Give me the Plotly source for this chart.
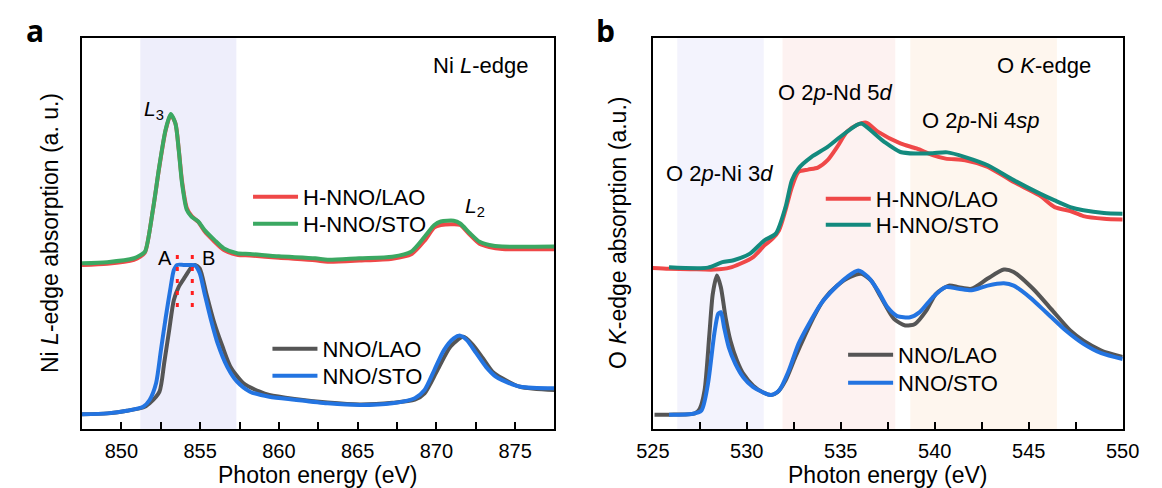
import plotly.graph_objects as go

# ---------------- data: panel a (Ni L-edge) ----------------
a_hsto_E = [847.5, 849.1, 850.8, 851.2, 851.5, 852.0, 852.4, 852.8, 853.13, 853.43, 853.64, 853.85,
            854.15, 854.46, 854.88, 855.28, 855.9, 856.51, 857.34, 858.16, 860.0, 862.3, 863.1, 865.1,
            867.2, 868.4, 869.25, 869.87, 870.28, 871.1, 871.51, 872.13, 872.74, 873.36, 874.18, 877.5]
a_hsto_I = [0.424, 0.427, 0.437, 0.445, 0.454, 0.561, 0.671, 0.765, 0.806, 0.782, 0.714, 0.629,
            0.561, 0.543, 0.531, 0.509, 0.484, 0.462, 0.450, 0.448, 0.442, 0.437, 0.433, 0.437,
            0.441, 0.454, 0.492, 0.522, 0.531, 0.533, 0.526, 0.501, 0.479, 0.471, 0.467, 0.467]
a_hlao_E = a_hsto_E
a_hlao_I = [0.420, 0.423, 0.433, 0.441, 0.452, 0.561, 0.669, 0.763, 0.804, 0.782, 0.716, 0.634,
            0.566, 0.545, 0.530, 0.506, 0.480, 0.458, 0.446, 0.444, 0.438, 0.432, 0.428, 0.431,
            0.436, 0.447, 0.482, 0.516, 0.522, 0.524, 0.522, 0.497, 0.474, 0.466, 0.461, 0.460]

a_sto_E = [847.5, 849.12, 850.35, 851.38, 851.79, 852.2, 852.51, 852.82, 853.13, 853.33, 853.54,
           853.95, 854.36, 854.67, 854.97, 855.28, 855.69, 856.11, 856.72, 857.34, 858.16, 859.39,
           861.0, 863.09, 865.14, 867.2, 868.63, 869.25, 869.87, 870.48, 871.1, 871.51, 871.92,
           872.53, 873.15, 873.77, 874.18, 875.32, 877.5]
a_sto_I = [0.0376, 0.040, 0.0468, 0.057, 0.0742, 0.117, 0.202, 0.287, 0.364, 0.407, 0.420,
           0.420, 0.420, 0.419, 0.399, 0.347, 0.279, 0.219, 0.159, 0.121, 0.0955, 0.0827,
           0.075, 0.0658, 0.0614, 0.0658, 0.0786, 0.0998, 0.151, 0.202, 0.232, 0.239, 0.228,
           0.194, 0.159, 0.134, 0.125, 0.108, 0.104]
a_lao_E = [847.5, 849.12, 850.35, 851.38, 851.79, 852.41, 852.72, 853.03, 853.33, 853.64, 854.05,
           854.46, 854.67, 854.97, 855.39, 855.9, 856.42, 856.93, 857.75, 858.78, 859.39, 861.0,
           863.09, 865.14, 867.2, 868.63, 869.25, 870.07, 870.9, 871.71, 872.33, 872.95, 873.56,
           874.18, 875.32, 877.5]
a_lao_I = [0.0376, 0.040, 0.0468, 0.055, 0.066, 0.0950, 0.170, 0.252, 0.330, 0.364, 0.390,
           0.415, 0.420, 0.411, 0.347, 0.271, 0.211, 0.159, 0.117, 0.0955, 0.087, 0.077,
           0.068, 0.063, 0.067, 0.075, 0.0914, 0.151, 0.211, 0.236, 0.215, 0.181, 0.147,
           0.130, 0.108, 0.0998]

# ---------------- data: panel b (O K-edge) ----------------
b_hlao_E = [525.0, 525.86, 527.0, 528.27, 529.1, 529.65, 530.34, 530.94, 531.37, 531.71, 532.06,
            532.4, 532.75, 533.26, 533.78, 534.3, 534.81, 535.33, 535.85, 536.36, 536.97, 538.17,
            539.03, 539.89, 540.58, 541.62, 542.82, 544.2, 545.57, 546.38, 547.21, 547.91, 549.0, 550.0]
b_hlao_I = [0.412, 0.410, 0.409, 0.408, 0.413, 0.423, 0.440, 0.470, 0.487, 0.508, 0.560,
            0.619, 0.658, 0.664, 0.669, 0.688, 0.722, 0.761, 0.778, 0.784, 0.761, 0.731,
            0.718, 0.701, 0.692, 0.688, 0.671, 0.632, 0.598, 0.568, 0.558, 0.545, 0.538, 0.536]
b_hsto_E = [525.86, 527.93, 528.70, 529.3, 530.17, 530.94, 531.54, 532.06, 532.4, 532.75, 533.43,
            534.3, 534.98, 535.85, 536.1, 537.31, 538.17, 539.03, 539.89, 540.67, 541.62, 542.82,
            544.2, 545.57, 546.38, 547.21, 547.91, 549.0, 550.0]
b_hsto_I = [0.414, 0.413, 0.427, 0.432, 0.449, 0.483, 0.500, 0.568, 0.637, 0.667, 0.696,
            0.722, 0.748, 0.778, 0.782, 0.735, 0.709, 0.705, 0.706, 0.708, 0.696, 0.675,
            0.637, 0.603, 0.585, 0.568, 0.560, 0.553, 0.551]
b_lao_E = [525.09, 525.86, 527.24, 527.49, 527.75, 528.01, 528.19, 528.41, 528.62, 528.87, 529.13,
           529.48, 529.82, 530.34, 530.85, 531.29, 531.63, 532.06, 532.58, 533.09, 533.61, 534.13,
           534.81, 535.5, 536.1, 536.62, 537.14, 537.83, 538.43, 538.95, 539.55, 540.07, 540.75,
           541.27, 541.96, 542.82, 543.68, 544.2, 545.23, 546.27, 547.21, 547.91, 548.86, 550.0]
b_lao_I = [0.0367, 0.0367, 0.040, 0.0513, 0.0982, 0.2436, 0.346, 0.393, 0.363, 0.286, 0.226,
           0.175, 0.141, 0.111, 0.094, 0.087, 0.094, 0.124, 0.184, 0.239, 0.291, 0.333,
           0.367, 0.389, 0.397, 0.380, 0.337, 0.282, 0.265, 0.269, 0.303, 0.346, 0.367,
           0.363, 0.359, 0.385, 0.408, 0.402, 0.359, 0.303, 0.252, 0.226, 0.201, 0.184]
b_sto_E = [525.86, 527.07, 527.58, 527.93, 528.27, 528.48, 528.62, 528.79, 529.04, 529.39, 529.82,
           530.34, 530.85, 531.29, 531.71, 532.23, 532.75, 533.26, 533.95, 534.64, 535.33, 535.93,
           536.45, 536.97, 537.48, 538.0, 538.69, 539.2, 539.89, 540.58, 541.27, 541.96, 542.82,
           543.68, 544.2, 545.06, 545.92, 546.97, 547.91, 548.86, 550.0]
b_sto_I = [0.0367, 0.0385, 0.047, 0.115, 0.2436, 0.295, 0.299, 0.2605, 0.209, 0.167, 0.132,
           0.107, 0.094, 0.087, 0.098, 0.149, 0.218, 0.265, 0.321, 0.359, 0.389, 0.406,
           0.389, 0.355, 0.312, 0.289, 0.286, 0.299, 0.337, 0.363, 0.359, 0.355, 0.367,
           0.373, 0.367, 0.337, 0.299, 0.252, 0.218, 0.194, 0.179]

# highlighted energy windows
a_bands = [(851.2, 857.3)]
b_bands = [(526.3, 530.9), (531.9, 537.9), (538.7, 546.5)]
ab_marks = [853.55, 854.5]

# ---------------- figure ----------------
W, H = 1162, 488
FONT = "Liberation Sans, Arial, Helvetica, sans-serif"


def PX(x):
    return x / W


def PY(y):
    return 1 - y / H


RED, GREEN, GRAY, BLUE, TEAL = "#EF4848", "#3BA862", "#555555", "#2374E1", "#138A7E"

fig = go.Figure()


def add(E, I, name, color, xa, ya, legend):
    fig.add_trace(go.Scatter(x=E, y=I, mode="lines", name=name, xaxis=xa, yaxis=ya,
                             legend=legend, showlegend=True,
                             line=dict(color=color, width=4, shape="spline", smoothing=0.7)))


add(a_hlao_E, a_hlao_I, "H-NNO/LAO", RED, "x", "y", "legend")
add(a_hsto_E, a_hsto_I, "H-NNO/STO", GREEN, "x", "y", "legend2")
add(a_lao_E, a_lao_I, "NNO/LAO", GRAY, "x", "y", "legend3")
add(a_sto_E, a_sto_I, "NNO/STO", BLUE, "x", "y", "legend4")
add(b_hlao_E, b_hlao_I, "H-NNO/LAO", RED, "x2", "y2", "legend5")
add(b_hsto_E, b_hsto_I, "H-NNO/STO", TEAL, "x2", "y2", "legend6")
add(b_lao_E, b_lao_I, "NNO/LAO", GRAY, "x2", "y2", "legend7")
add(b_sto_E, b_sto_I, "NNO/STO", BLUE, "x2", "y2", "legend8")

shapes = []
for x0, x1 in a_bands:
    shapes.append(dict(type="rect", xref="x", yref="y domain", x0=x0, x1=x1, y0=0, y1=1,
                       fillcolor="#EEEEFB", line=dict(width=0), layer="below"))
for (x0, x1), c in zip(b_bands, ["#F3F3FD", "#FDF2F1", "#FEF6EE"]):
    shapes.append(dict(type="rect", xref="x2", yref="y2 domain", x0=x0, x1=x1, y0=0, y1=1,
                       fillcolor=c, line=dict(width=0), layer="below"))
for xm in ab_marks:
    shapes.append(dict(type="line", xref="x", yref="y", x0=xm, x1=xm, y0=0.312, y1=0.465,
                       line=dict(color="#FF1E1E", width=3, dash="4px,8px")))

ann = []


def text(x, y, t, size=22, **kw):
    d = dict(x=PX(x), y=PY(y), xref="paper", yref="paper", text=t, showarrow=False,
             font=dict(family=FONT, size=size, color="black"), xanchor="center", yanchor="middle")
    d.update(kw)
    ann.append(d)


text(19, 30, "<b>a</b>", font=dict(family="Open Sans, Liberation Sans", size=30, color="black"))
text(606, 30, "<b>b</b>", font=dict(family="Open Sans, Liberation Sans", size=30, color="black"))
text(477, 65, "Ni <i>L</i>-edge")
text(141, 110, "<i>L</i><sub>3</sub>", size=21)
text(472, 207, "<i>L</i><sub>2</sub>", size=21)
text(152, 258, "A", size=20)
text(197, 258, "B", size=20)
text(1058, 65, "O <i>K</i>-edge")
text(843, 93, "O 2<i>p</i>-Nd 5<i>d</i>")
text(993, 120, "O 2<i>p</i>-Ni 4<i>sp</i>")
text(724, 173, "O 2<i>p</i>-Ni 3<i>d</i>")
text(34, 233, "Ni <i>L</i>-edge absorption (a. u.)", size=23, textangle=-90)
text(619, 233, "O <i>K</i>-edge absorption (a.u.)", size=23, textangle=-90)
text(310, 475, "Photon energy (eV)", size=23)
text(897, 475, "Photon energy (eV)", size=23)

xcommon = dict(showgrid=False, zeroline=False, showline=True, linewidth=2, linecolor="black",
               mirror=True, ticks="inside", ticklen=7, tickwidth=1.5, tickcolor="black",
               dtick=5, tickfont=dict(family=FONT, size=20, color="black"), ticklabelstandoff=3,
               minor=dict(dtick=2.5, ticks="inside", ticklen=7, tickwidth=1.5, tickcolor="black"))
ycommon = dict(showgrid=False, zeroline=False, showline=True, linewidth=2, linecolor="black",
               mirror=True, showticklabels=False, ticks="", range=[0, 1],
               domain=[PY(429), PY(38.3)])


def leg(x, y):
    return dict(x=PX(x), y=PY(y), xanchor="left", yanchor="middle",
                font=dict(family=FONT, size=22, color="black"), bgcolor="rgba(0,0,0,0)",
                itemwidth=45, visible=True)


fig.update_layout(
    width=W, height=H, margin=dict(l=0, r=0, t=0, b=0),
    paper_bgcolor="white", plot_bgcolor="white", showlegend=True,
    xaxis=dict(domain=[PX(67), PX(553.7)], range=[847.5, 877.5], tick0=850, anchor="y", **xcommon),
    yaxis=dict(anchor="x", **ycommon),
    xaxis2=dict(domain=[PX(655), PX(1139)], range=[525, 550], tick0=525, anchor="y2", **xcommon),
    yaxis2=dict(anchor="x2", **ycommon),
    shapes=shapes, annotations=ann,
    legend=leg(238, 197), legend2=leg(238, 224),
    legend3=leg(258, 349), legend4=leg(258, 376),
    legend5=leg(828, 199), legend6=leg(828, 225),
    legend7=leg(851, 355), legend8=leg(851, 383),
    font=dict(family=FONT),
)

fig.write_html("out.html", config={"displayModeBar": False},
               post_script="document.body.style.margin='0px';document.body.style.overflow='hidden';")
